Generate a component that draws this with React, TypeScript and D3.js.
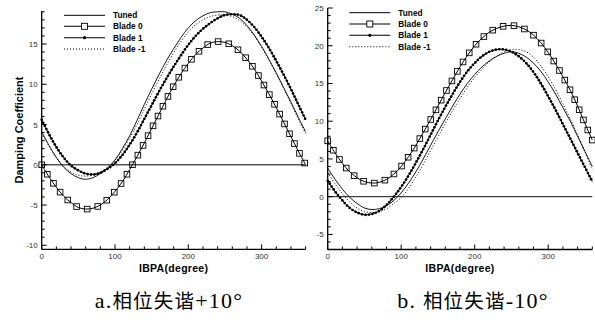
import React, { useEffect, useRef } from "react";
import * as d3 from "d3";

// IBPA grid (degree)
const ibpa = [
  0, 10, 20, 30, 40, 50, 60, 70, 80, 90, 100, 110, 120, 130, 140, 150, 160, 170, 180,
  190, 200, 210, 220, 230, 240, 250, 260, 270, 280, 290, 300, 310, 320, 330, 340, 350, 360,
];

// a. mistuning +10
const tunedA = [
  4.1, 2.4, 0.9, -0.3, -1.1, -1.6, -1.8, -1.6, -1.1, -0.4, 0.6, 2.0, 3.6, 5.5, 7.5, 9.4, 11.2, 12.9, 14.4,
  15.8, 17.0, 17.9, 18.5, 18.9, 19.0, 19.0, 18.7, 18.2, 17.3, 16.1, 14.7, 13.1, 11.4, 9.6, 7.8, 5.9, 4.1,
];
const blade0A = [
  0.0, -1.5, -2.8, -3.9, -4.7, -5.3, -5.5, -5.4, -5.0, -4.3, -3.3, -2.1, -0.6, 1.0, 2.7, 4.5, 6.3, 8.1, 9.8,
  11.3, 12.6, 13.7, 14.5, 15.1, 15.3, 15.2, 14.8, 14.1, 13.1, 11.9, 10.4, 8.8, 7.1, 5.3, 3.5, 1.7, 0.0,
];
const blade1A = [
  5.6, 3.8, 2.2, 0.9, -0.1, -0.7, -1.1, -1.2, -1.0, -0.5, 0.2, 1.2, 2.5, 4.0, 5.7, 7.4, 9.1, 10.7, 12.2,
  13.6, 14.9, 16.0, 16.9, 17.6, 18.2, 18.6, 18.7, 18.6, 18.0, 17.1, 15.9, 14.5, 12.9, 11.2, 9.4, 7.5, 5.6,
];
const bladeM1A = [
  3.9, 2.3, 0.9, -0.2, -0.9, -1.3, -1.4, -1.3, -0.9, -0.3, 0.6, 1.8, 3.3, 5.0, 6.9, 8.8, 10.6, 12.3, 13.9,
  15.3, 16.5, 17.4, 18.0, 18.4, 18.6, 18.6, 18.4, 17.9, 17.1, 16.0, 14.6, 13.0, 11.3, 9.5, 7.6, 5.7, 3.9,
];

// b. mistuning -10
const tunedB = [
  3.8, 2.3, 1.0, -0.1, -0.9, -1.5, -1.7, -1.6, -1.2, -0.5, 0.5, 1.8, 3.3, 5.0, 6.8, 8.6, 10.3, 12.0, 13.6,
  15.0, 16.2, 17.2, 18.0, 18.6, 19.0, 19.2, 19.0, 18.5, 17.7, 16.6, 15.2, 13.6, 11.8, 10.0, 8.0, 6.0, 4.0,
];
const blade0B = [
  7.4, 5.8, 4.4, 3.3, 2.5, 2.0, 1.8, 1.9, 2.3, 3.0, 4.0, 5.3, 6.8, 8.5, 10.2, 12.0, 13.8, 15.5, 17.2,
  18.7, 20.0, 21.0, 21.8, 22.3, 22.6, 22.7, 22.5, 22.1, 21.4, 20.4, 19.1, 17.6, 15.9, 14.1, 12.0, 9.7, 7.5,
];
const blade1B = [
  2.1, 0.7, -0.5, -1.5, -2.1, -2.4, -2.3, -1.9, -1.1, 0.0, 1.3, 2.8, 4.5, 6.3, 8.2, 10.1, 11.9, 13.6, 15.2,
  16.6, 17.7, 18.6, 19.2, 19.5, 19.5, 19.2, 18.6, 17.7, 16.5, 15.0, 13.3, 11.5, 9.6, 7.7, 5.8, 3.9, 2.0,
];
const bladeM1B = [
  3.2, 1.7, 0.4, -0.7, -1.5, -2.0, -2.1, -2.0, -1.6, -0.9, -0.1, 1.1, 2.6, 4.3, 6.1, 7.9, 9.7, 11.4, 13.0,
  14.5, 15.8, 16.9, 17.9, 18.6, 19.2, 19.5, 19.5, 19.2, 18.5, 17.3, 15.9, 14.2, 12.3, 10.3, 8.2, 5.9, 3.6,
];

const seriesNames = ["Tuned", "Blade 0", "Blade 1", "Blade -1"];
const xMajor = [0, 100, 200, 300];
const yMajorA = [-10, -5, 0, 5, 10, 15];
const yMajorB = [-5, 0, 5, 10, 15, 20, 25];

// caption pieces: [latin prefix, chinese, latin suffix]
const captionA = ["a.", "相位失谐", "+10°"];
const captionB = ["b. ", "相位失谐", "-10°"];

const FONT = "Arial, 'Liberation Sans', sans-serif";

type Panel = {
  x0: number;
  x1: number;
  yDomain: [number, number];
  yRange: [number, number];
  yMajor: number[];
  series: number[][];
  legendX: number;
  legendY: number[];
  yLabel?: string;
  zeroColor: string;
  zeroWidth: number;
  caption: string[];
  captionX: number;
};

const panels: Panel[] = [
  {
    x0: 41.7,
    x1: 305.6,
    yDomain: [-10.5, 19.1],
    yRange: [249.3, 11],
    yMajor: yMajorA,
    series: [tunedA, blade0A, blade1A, bladeM1A],
    legendX: 64,
    legendY: [15.3, 26.3, 37.7, 49],
    yLabel: "Damping Coefficient",
    zeroColor: "#555",
    zeroWidth: 1.6,
    caption: captionA,
    captionX: 169,
  },
  {
    x0: 327.7,
    x1: 592.3,
    yDomain: [-7, 25],
    yRange: [249.5, 8],
    yMajor: yMajorB,
    series: [tunedB, blade0B, blade1B, bladeM1B],
    legendX: 349.3,
    legendY: [12.7, 24, 35.3, 46.7],
    zeroColor: "#111",
    zeroWidth: 1,
    caption: captionB,
    captionX: 473,
  },
];

function drawPanel(svg: d3.Selection<SVGSVGElement, unknown, null, undefined>, p: Panel) {
  const x = d3.scaleLinear().domain([0, 360]).range([p.x0, p.x1]);
  const y = d3.scaleLinear().domain(p.yDomain).range(p.yRange);
  const g = svg.append("g");

  // zero line
  g.append("line")
    .attr("x1", x(0))
    .attr("x2", x(360))
    .attr("y1", y(0))
    .attr("y2", y(0))
    .attr("stroke", p.zeroColor)
    .attr("stroke-width", p.zeroWidth);

  const line = d3
    .line<number>()
    .x((_, i) => x(ibpa[i]))
    .y((d) => y(d))
    .curve(d3.curveCatmullRom);

  const [tuned, b0, b1, bm1] = p.series;

  g.append("path")
    .attr("d", line(tuned))
    .attr("fill", "none")
    .attr("stroke", "#000")
    .attr("stroke-width", 0.9);

  g.append("path")
    .attr("d", line(bm1))
    .attr("fill", "none")
    .attr("stroke", "#000")
    .attr("stroke-width", 1)
    .attr("stroke-dasharray", "1,2");

  const p1 = g
    .append("path")
    .attr("d", line(b1))
    .attr("fill", "none")
    .attr("stroke", "#000")
    .attr("stroke-width", 1);

  const p0 = g
    .append("path")
    .attr("d", line(b0))
    .attr("fill", "none")
    .attr("stroke", "#000")
    .attr("stroke-width", 1);

  // Blade 1 dots along the curve
  const n1 = p1.node() as SVGPathElement;
  const len1 = n1.getTotalLength();
  const dots = d3.range(0, len1 + 0.1, 3.5).map((l) => n1.getPointAtLength(l));
  g.selectAll(".dot")
    .data(dots)
    .enter()
    .append("circle")
    .attr("cx", (d) => d.x)
    .attr("cy", (d) => d.y)
    .attr("r", 1.35)
    .attr("fill", "#000");

  // Blade 0 squares along the curve
  const n0 = p0.node() as SVGPathElement;
  const len0 = n0.getTotalLength();
  const sq = d3.range(0, len0 + 0.1, 11).map((l) => n0.getPointAtLength(l));
  const s = 5.6;
  g.selectAll(".sq")
    .data(sq)
    .enter()
    .append("rect")
    .attr("x", (d) => d.x - s / 2)
    .attr("y", (d) => d.y - s / 2)
    .attr("width", s)
    .attr("height", s)
    .attr("fill", "none")
    .attr("stroke", "#000")
    .attr("stroke-width", 0.9);

  // axes
  const [yb, yt] = p.yRange;
  g.append("line")
    .attr("x1", p.x0)
    .attr("x2", p.x0)
    .attr("y1", yt)
    .attr("y2", yb)
    .attr("stroke", "#000")
    .attr("stroke-width", 1.3);
  g.append("line")
    .attr("x1", p.x0)
    .attr("x2", p.x1)
    .attr("y1", yb)
    .attr("y2", yb)
    .attr("stroke", "#000")
    .attr("stroke-width", 1.3);

  const xMinor = d3.range(0, 361, 20).filter((v) => !xMajor.includes(v));
  g.selectAll(".xminor")
    .data(xMinor)
    .enter()
    .append("line")
    .attr("x1", (d) => x(d))
    .attr("x2", (d) => x(d))
    .attr("y1", yb)
    .attr("y2", yb - 3)
    .attr("stroke", "#000")
    .attr("stroke-width", 1);
  g.selectAll(".xmajor")
    .data(xMajor)
    .enter()
    .append("line")
    .attr("x1", (d) => x(d))
    .attr("x2", (d) => x(d))
    .attr("y1", yb)
    .attr("y2", yb - 5)
    .attr("stroke", "#000")
    .attr("stroke-width", 1);
  g.selectAll(".xlab")
    .data(xMajor)
    .enter()
    .append("text")
    .attr("x", (d) => x(d))
    .attr("y", yb + 9.5)
    .attr("text-anchor", "middle")
    .style("font-family", FONT)
    .style("font-size", "8px")
    .style("fill", "#333")
    .text((d) => d);

  const yMinor = d3
    .range(Math.ceil(p.yDomain[0]), Math.floor(p.yDomain[1]) + 1, 1)
    .filter((v) => !p.yMajor.includes(v));
  g.selectAll(".yminor")
    .data(yMinor)
    .enter()
    .append("line")
    .attr("x1", p.x0)
    .attr("x2", p.x0 + 3)
    .attr("y1", (d) => y(d))
    .attr("y2", (d) => y(d))
    .attr("stroke", "#000")
    .attr("stroke-width", 1);
  g.selectAll(".ymajor")
    .data(p.yMajor)
    .enter()
    .append("line")
    .attr("x1", p.x0)
    .attr("x2", p.x0 + 5)
    .attr("y1", (d) => y(d))
    .attr("y2", (d) => y(d))
    .attr("stroke", "#000")
    .attr("stroke-width", 1);
  g.selectAll(".ylab")
    .data(p.yMajor)
    .enter()
    .append("text")
    .attr("x", p.x0 - 4)
    .attr("y", (d) => y(d) + 3)
    .attr("text-anchor", "end")
    .style("font-family", FONT)
    .style("font-size", "8px")
    .style("fill", "#333")
    .text((d) => d);

  // axis titles
  g.append("text")
    .attr("x", (p.x0 + p.x1) / 2)
    .attr("y", 271.5)
    .attr("text-anchor", "middle")
    .style("font-family", FONT)
    .style("font-size", "10.5px")
    .style("font-weight", "bold")
    .style("letter-spacing", "0.3px")
    .text("IBPA(degree)");

  if (p.yLabel) {
    g.append("text")
      .attr("transform", `translate(23,130) rotate(-90)`)
      .attr("text-anchor", "middle")
      .style("font-family", FONT)
      .style("font-size", "11px")
      .style("font-weight", "bold")
      .text(p.yLabel);
  }

  // legend
  const lx0 = p.legendX;
  const lx1 = p.legendX + 41;
  seriesNames.forEach((name, i) => {
    const ly = p.legendY[i];
    const ln = g
      .append("line")
      .attr("x1", lx0)
      .attr("x2", lx1)
      .attr("y1", ly)
      .attr("y2", ly)
      .attr("stroke", "#000")
      .attr("stroke-width", i === 0 ? 1 : 1.1);
    if (i === 3) ln.attr("stroke-dasharray", "1,2");
    if (i === 1) {
      g.append("rect")
        .attr("x", (lx0 + lx1) / 2 - 3)
        .attr("y", ly - 3)
        .attr("width", 6)
        .attr("height", 6)
        .attr("fill", "#fff")
        .attr("stroke", "#000")
        .attr("stroke-width", 0.9);
    }
    if (i === 2) {
      g.append("circle")
        .attr("cx", (lx0 + lx1) / 2)
        .attr("cy", ly)
        .attr("r", 1.6)
        .attr("fill", "#000");
    }
    g.append("text")
      .attr("x", lx1 + 8)
      .attr("y", ly + 3)
      .style("font-family", FONT)
      .style("font-size", "8.3px")
      .style("font-weight", "bold")
      .text(name);
  });

  // caption
  const cap = g
    .append("text")
    .attr("x", p.captionX)
    .attr("y", 308)
    .attr("text-anchor", "middle")
    .style("font-family", "'Liberation Serif', 'Noto Sans CJK SC', serif")
    .style("letter-spacing", "1.2px");
  cap.append("tspan").style("font-size", "22px").text(p.caption[0]);
  cap.append("tspan").style("font-size", "19.5px").text(p.caption[1]);
  cap.append("tspan").style("font-size", "22px").text(p.caption[2]);
}

export default function App() {
  const svgRef = useRef<SVGSVGElement>(null);

  useEffect(() => {
    if (!svgRef.current) return;
    const svg = d3.select(svgRef.current);
    svg.selectAll("*").remove();
    panels.forEach((p) => drawPanel(svg, p));
  }, []);

  return (
    <svg
      ref={svgRef}
      width={595}
      height={323}
      style={{ position: "absolute", left: 0, top: 0, background: "#fff" }}
    />
  );
}
